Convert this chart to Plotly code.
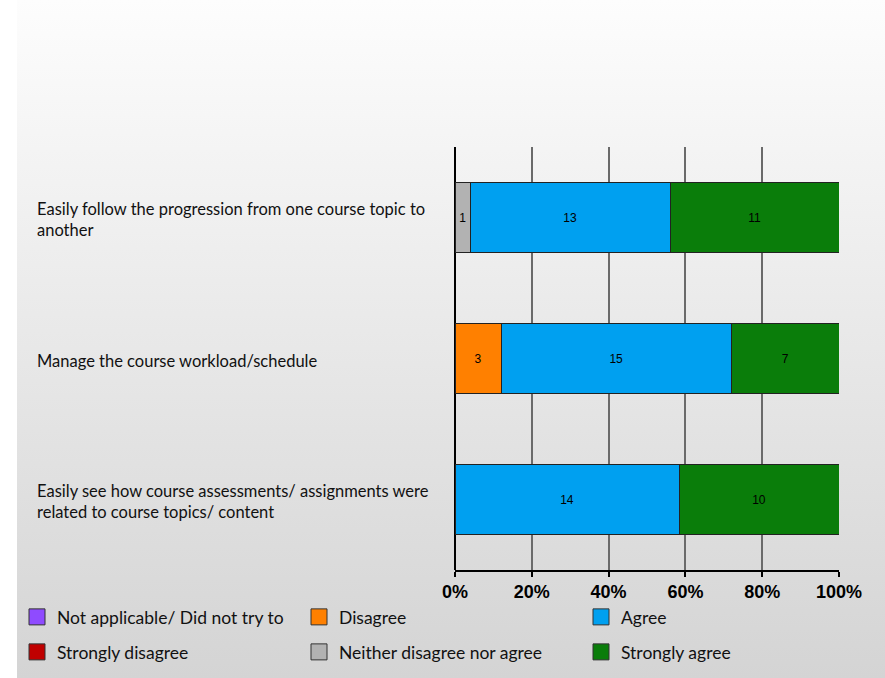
import plotly.graph_objects as go

categories = [
    "Easily follow the progression from one course topic to<br>another",
    "Manage the course workload/schedule",
    "Easily see how course assessments/ assignments were<br>related to course topics/ content",
]
series_names = ["Not applicable/ Did not try to", "Strongly disagree", "Disagree",
                "Neither disagree nor agree", "Agree", "Strongly agree"]
not_applicable = [0, 0, 0]
strongly_disagree = [0, 0, 0]
disagree = [0, 3, 0]
neither = [1, 0, 0]
agree = [13, 15, 14]
strongly_agree = [11, 7, 10]
tick_vals = [0, 20, 40, 60, 80, 100]
tick_labels = ["0%", "20%", "40%", "60%", "80%", "100%"]

colors = ["#8F4BFF", "#C00000", "#FF8000", "#B2B2B2", "#00A0F0", "#0A7D0A"]
series_values = [not_applicable, strongly_disagree, disagree, neither, agree, strongly_agree]
# legend placement: row 1 = legend, row 2 = legend2
legend_ids = ["legend", "legend2", "legend", "legend2", "legend", "legend2"]
legend_ranks = [1, 1, 2, 2, 3, 3]

W, H = 885, 678
fig = go.Figure()

# background gradient (decorative)
fig.add_trace(go.Scatter(
    x=[0, 1, 1, 0, 0], y=[0, 0, 1, 1, 0], mode="none", fill="toself",
    fillgradient=dict(type="vertical", colorscale=[[0, "#d4d4d4"], [1, "#fdfdfd"]]),
    showlegend=False, hoverinfo="skip", xaxis="x", yaxis="y"))

for name, vals, col in zip(series_names, series_values, colors):
    fig.add_trace(go.Bar(
        y=categories, x=vals, name=name, orientation="h",
        marker=dict(color=col, line=dict(color="#222222", width=1)),
        text=[str(v) if v else "" for v in vals],
        textposition="inside", insidetextanchor="middle", textangle=0,
        textfont=dict(family="Liberation Sans, Arial", size=12, color="black"),
        xaxis="x2", yaxis="y2", legendgroup=name, showlegend=False, hoverinfo="skip"))

# legend entries with larger square swatches
for name, col, lg, rk in zip(series_names, colors, legend_ids, legend_ranks):
    fig.add_trace(go.Scatter(
        x=[None], y=[None], mode="markers", name=name,
        marker=dict(symbol="square", size=16, color=col, line=dict(color="#333333", width=1)),
        xaxis="x2", yaxis="y2", legend=lg, legendrank=rk, legendgroup=name,
        showlegend=True, hoverinfo="skip"))

for c in categories:
    fig.add_annotation(x=35 / W, xref="paper", xanchor="left", y=c, yref="y2",
                       yshift=-2, text=c, showarrow=False, align="left",
                       font=dict(family="Lato, Open Sans", size=16.5, color="#111111"))

legend_common = dict(orientation="h", xanchor="left", yanchor="middle",
                     x=17 / W, bgcolor="rgba(0,0,0,0)",
                     font=dict(family="Lato, Open Sans", size=17.5, color="#111111"),
                     entrywidth=237, entrywidthmode="pixels", traceorder="normal")

fig.update_layout(
    width=W, height=H, margin=dict(l=0, r=0, t=0, b=0, autoexpand=False),
    paper_bgcolor="white", plot_bgcolor="rgba(0,0,0,0)",
    barmode="stack", barnorm="percent", bargap=0.5,
    uniformtext=dict(minsize=12, mode="show"),
    xaxis=dict(domain=[17 / W, 1], range=[0, 1], visible=False, fixedrange=True),
    yaxis=dict(domain=[0, 1], range=[0, 1], visible=False, fixedrange=True),
    xaxis2=dict(domain=[455 / W, 839 / W], range=[0, 100], anchor="y2",
                tickmode="array", tickvals=tick_vals, ticktext=tick_labels,
                showgrid=True, gridcolor="#6a6a6a", gridwidth=1.5,
                zeroline=True, zerolinecolor="black", zerolinewidth=1.5,
                showline=True, linecolor="black", linewidth=1.5,
                ticks="outside", ticklen=5, tickcolor="black", tickwidth=1.5,
                tickfont=dict(family="Liberation Sans, Arial", size=18, color="black", weight="bold")),
    yaxis2=dict(domain=[(H - 570) / H, (H - 147) / H], anchor="x2",
                categoryorder="array", categoryarray=categories, autorange="reversed",
                showticklabels=False, showgrid=False, zeroline=False, showline=False),
    legend=dict(y=(H - 617) / H, **legend_common),
    legend2=dict(y=(H - 652) / H, **legend_common),
    showlegend=True,
)

fig.write_html("out.html", config={"displayModeBar": False},
               post_script="document.body.style.margin='0';")
